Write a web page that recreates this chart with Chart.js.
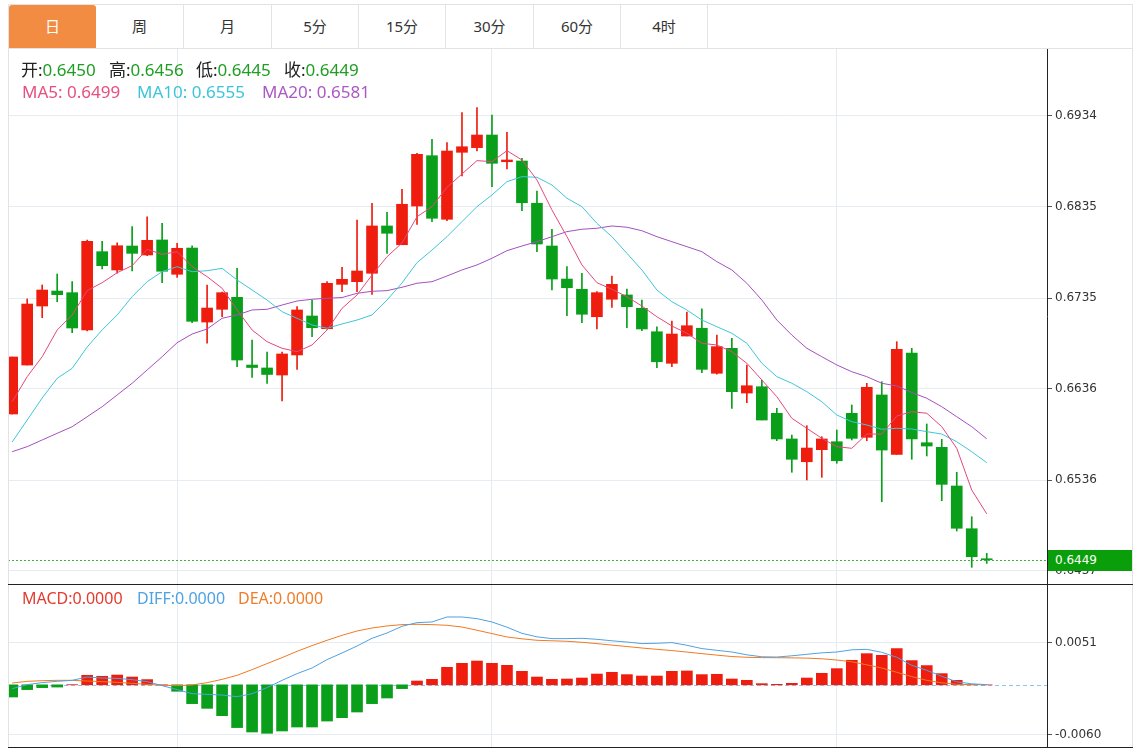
<!DOCTYPE html>
<html lang="zh-CN">
<head>
<meta charset="utf-8">
<title>K线图</title>
<script src="https://cdn.jsdelivr.net/npm/chart.js@4.4.1/dist/chart.umd.min.js"></script>
<style>
html,body{margin:0;padding:0;background:#fff;}
body{width:1145px;height:750px;position:relative;overflow:hidden;font-family:"Noto Sans","Noto Sans CJK SC",sans-serif;}
.abs{position:absolute;}
.hl{position:absolute;height:1px;}
.vl{position:absolute;width:1px;}
.tab{position:absolute;top:5px;height:43px;line-height:43px;text-align:center;font-size:15px;color:#333;border-right:1px solid #e3e3e3;box-sizing:border-box;font-family:"Noto Sans","Noto Sans CJK SC",sans-serif;}
.tab.on{background:#f28c42;color:#fff;border-radius:3px 3px 0 0;border-right:none;}
.leg{position:absolute;font-size:17px;white-space:nowrap;line-height:20px;}
.k{color:#222}.gv{color:#1f9e23}
#pricebox{position:absolute;left:1048px;width:84px;height:21px;background:#0a9f0a;color:#fff;font:12px "DejaVu Sans",Verdana,sans-serif;line-height:21px;padding-left:7px;box-sizing:border-box;}
</style>
</head>
<body>
<div class="abs" style="left:8px;top:48px;width:1124px;height:536px"><canvas id="main" width="1124" height="536"></canvas></div>
<div class="abs" style="left:8px;top:584px;width:1124px;height:163px"><canvas id="macd" width="1124" height="163"></canvas></div>

<div class="tab on" style="left:9px;width:87px">日</div>
<div class="tab" style="left:96px;width:88px">周</div>
<div class="tab" style="left:184px;width:88px">月</div>
<div class="tab" style="left:272px;width:87px">5分</div>
<div class="tab" style="left:359px;width:87px">15分</div>
<div class="tab" style="left:446px;width:88px">30分</div>
<div class="tab" style="left:534px;width:87px">60分</div>
<div class="tab" style="left:621px;width:87px">4时</div>

<div class="hl" style="left:8px;top:4px;width:1125px;background:#e3e3e3"></div>
<div class="hl" style="left:8px;top:48px;width:1125px;background:#e3e3e3"></div>
<div class="vl" style="left:8px;top:4px;height:744px;background:#e3e3e3"></div>
<div class="vl" style="left:1132px;top:4px;height:744px;background:#e3e3e3"></div>
<div class="hl" style="left:8px;top:584px;width:1125px;background:#222"></div>
<div class="hl" style="left:8px;top:747px;width:1125px;background:#222"></div>

<span class="leg" style="left:21px;top:60px"><span class="k">开:</span><span class="gv" id="vO"></span></span>
<span class="leg" style="left:109px;top:60px"><span class="k">高:</span><span class="gv" id="vH"></span></span>
<span class="leg" style="left:196px;top:60px"><span class="k">低:</span><span class="gv" id="vL"></span></span>
<span class="leg" style="left:284px;top:60px"><span class="k">收:</span><span class="gv" id="vC"></span></span>
<span class="leg" style="left:22px;top:82px;color:#e6507f" id="vMA5"></span>
<span class="leg" style="left:137px;top:82px;color:#3ec4da" id="vMA10"></span>
<span class="leg" style="left:262px;top:82px;color:#ab58c4" id="vMA20"></span>

<span class="leg" style="left:22px;top:588px;font-size:16px;color:#e33b2e" id="vMACD"></span>
<span class="leg" style="left:137px;top:588px;font-size:16px;color:#4fa3e3" id="vDIFF"></span>
<span class="leg" style="left:238px;top:588px;font-size:16px;color:#ef7d2b" id="vDEA"></span>

<div id="pricebox"></div>

<script>
// ---- data ----
const open  = [0.66083,0.66618,0.67263,0.67427,0.67409,0.67001,0.67857,0.67657,0.67919,0.67821,
               0.67985,0.67610,0.67897,0.67088,0.67227,0.67358,0.66618,0.66586,0.66509,0.66728,
               0.67154,0.67015,0.67500,0.67529,0.67621,0.68138,0.67933,0.68356,0.68906,0.68211,
               0.68943,0.68994,0.69132,0.68840,0.68848,0.68386,0.67919,0.67558,0.67446,0.67146,
               0.67337,0.67384,0.67238,0.66982,0.66637,0.66935,0.67020,0.66528,0.66801,0.66312,
               0.66381,0.66090,0.65810,0.65561,0.65693,0.65780,0.66090,0.65828,0.66291,0.65642,
               0.66750,0.65769,0.65719,0.65296,0.64829,0.64500];
const high  = [0.66706,0.67340,0.67493,0.67613,0.67529,0.67985,0.67970,0.67955,0.68130,0.68239,
               0.68167,0.67949,0.67922,0.67493,0.67416,0.67675,0.66892,0.66760,0.66760,0.67256,
               0.67329,0.67529,0.67686,0.68203,0.68386,0.68287,0.68539,0.68932,0.69085,0.69048,
               0.69376,0.69431,0.69351,0.69162,0.68878,0.68520,0.68102,0.67693,0.67621,0.67420,
               0.67591,0.67449,0.67329,0.67037,0.67099,0.67198,0.67231,0.66946,0.66910,0.66618,
               0.66454,0.66145,0.65853,0.65955,0.65835,0.65908,0.66181,0.66418,0.66436,0.66873,
               0.66801,0.65974,0.65806,0.65446,0.64960,0.64560];
const low   = [0.66083,0.66618,0.67135,0.67310,0.66971,0.66990,0.67668,0.67621,0.67646,0.67813,
               0.67518,0.67577,0.67081,0.66856,0.67146,0.66600,0.66482,0.66416,0.66225,0.66571,
               0.66928,0.67009,0.67420,0.67420,0.67391,0.67839,0.67933,0.68156,0.68185,0.68196,
               0.68684,0.68957,0.68567,0.68761,0.68305,0.67857,0.67438,0.67157,0.67081,0.67012,
               0.67249,0.67026,0.66993,0.66589,0.66600,0.66935,0.66534,0.66517,0.66145,0.66206,
               0.66017,0.65791,0.65446,0.65362,0.65391,0.65544,0.65799,0.65791,0.65124,0.65642,
               0.65588,0.65624,0.65135,0.64804,0.64407,0.64450];
const close = [0.66706,0.67285,0.67438,0.67387,0.67023,0.67970,0.67704,0.67922,0.67839,0.67981,
               0.67643,0.67894,0.67096,0.67241,0.67409,0.66673,0.66591,0.66515,0.66739,0.67220,
               0.67026,0.67511,0.67555,0.67646,0.68138,0.68058,0.68375,0.68921,0.68222,0.68957,
               0.69004,0.69132,0.68823,0.68859,0.68392,0.67941,0.67558,0.67463,0.67173,0.67409,
               0.67500,0.67256,0.67012,0.66654,0.66957,0.67048,0.66571,0.66819,0.66327,0.66392,
               0.66017,0.65810,0.65588,0.65711,0.65810,0.65572,0.65817,0.66375,0.65689,0.66790,
               0.65810,0.65733,0.65314,0.64834,0.64523,0.64490];
const ma5   = [0.66217,0.66491,0.66709,0.67001,0.67165,0.67431,0.67518,0.67627,0.67704,0.67883,
               0.67828,0.67857,0.67693,0.67584,0.67457,0.67220,0.67001,0.66873,0.66801,0.66764,
               0.66837,0.67001,0.67238,0.67384,0.67602,0.67802,0.67952,0.68239,0.68349,0.68561,
               0.68706,0.68852,0.68841,0.68961,0.68859,0.68641,0.68313,0.68021,0.67712,0.67518,
               0.67446,0.67365,0.67263,0.67146,0.67045,0.66965,0.66856,0.66837,0.66764,0.66637,
               0.66455,0.66272,0.66036,0.65927,0.65817,0.65726,0.65708,0.65864,0.65864,0.66061,
               0.66108,0.66091,0.65944,0.65708,0.65252,0.64992];
const ma10  = [0.65777,0.66017,0.66258,0.66473,0.66582,0.66815,0.67001,0.67165,0.67365,0.67529,
               0.67638,0.67693,0.67638,0.67649,0.67675,0.67548,0.67438,0.67329,0.67201,0.67129,
               0.67056,0.67020,0.67067,0.67110,0.67165,0.67329,0.67515,0.67737,0.67875,0.68021,
               0.68185,0.68349,0.68477,0.68622,0.68677,0.68670,0.68586,0.68441,0.68349,0.68167,
               0.68021,0.67839,0.67657,0.67438,0.67310,0.67220,0.67110,0.67037,0.66965,0.66856,
               0.66637,0.66491,0.66419,0.66327,0.66217,0.66072,0.65999,0.65963,0.65916,0.65927,
               0.65919,0.65890,0.65864,0.65780,0.65671,0.65551];
const ma20  = [0.65671,0.65726,0.65799,0.65872,0.65944,0.66053,0.66163,0.66291,0.66419,0.66564,
               0.66709,0.66862,0.66957,0.67012,0.67129,0.67165,0.67220,0.67227,0.67274,0.67318,
               0.67337,0.67348,0.67356,0.67402,0.67424,0.67431,0.67468,0.67512,0.67529,0.67591,
               0.67657,0.67712,0.67785,0.67868,0.67919,0.67966,0.68021,0.68076,0.68102,0.68113,
               0.68138,0.68124,0.68086,0.68021,0.67966,0.67912,0.67857,0.67748,0.67657,0.67512,
               0.67329,0.67110,0.66946,0.66801,0.66709,0.66619,0.66545,0.66491,0.66419,0.66389,
               0.66318,0.66255,0.66163,0.66053,0.65944,0.65812];
const macd  = [-0.00147,-0.00058,-0.00034,-0.00027,0.00002,0.00115,0.00103,0.00118,0.00094,0.00063,
               0.00000,-0.00078,-0.00227,-0.00284,-0.00372,-0.00516,-0.00569,-0.00585,-0.00557,-0.00509,
               -0.00509,-0.00437,-0.00396,-0.00328,-0.00227,-0.00159,-0.00046,0.00046,0.00066,0.00211,
               0.00259,0.00287,0.00259,0.00235,0.00163,0.00094,0.00066,0.00070,0.00082,0.00130,
               0.00151,0.00123,0.00106,0.00106,0.00163,0.00167,0.00123,0.00127,0.00070,0.00054,
               0.00014,0.00006,0.00018,0.00082,0.00139,0.00195,0.00296,0.00376,0.00356,0.00437,
               0.00292,0.00232,0.00135,0.00054,0.00002,0.00000];
const diff  = [-0.00046,0.00002,0.00027,0.00042,0.00054,0.00094,0.00082,0.00078,0.00062,0.00038,
               -0.00010,-0.00058,-0.00107,-0.00115,-0.00123,-0.00143,-0.00107,-0.00034,0.00054,0.00135,
               0.00203,0.00304,0.00384,0.00468,0.00561,0.00625,0.00706,0.00750,0.00758,0.00818,
               0.00818,0.00798,0.00758,0.00695,0.00621,0.00579,0.00557,0.00557,0.00561,0.00549,
               0.00531,0.00516,0.00497,0.00501,0.00509,0.00477,0.00437,0.00416,0.00396,0.00362,
               0.00338,0.00335,0.00350,0.00368,0.00386,0.00396,0.00422,0.00428,0.00392,0.00332,
               0.00235,0.00175,0.00103,0.00036,0.00012,0.00002];
const dea   = [0.00022,0.00042,0.00050,0.00054,0.00054,0.00046,0.00038,0.00030,0.00018,0.00006,
               -0.00006,-0.00010,-0.00002,0.00026,0.00066,0.00115,0.00183,0.00256,0.00328,0.00404,
               0.00473,0.00537,0.00597,0.00649,0.00685,0.00710,0.00726,0.00730,0.00726,0.00718,
               0.00697,0.00658,0.00618,0.00577,0.00555,0.00537,0.00531,0.00525,0.00513,0.00497,
               0.00479,0.00462,0.00444,0.00428,0.00413,0.00395,0.00376,0.00358,0.00341,0.00332,
               0.00328,0.00327,0.00325,0.00322,0.00314,0.00299,0.00278,0.00241,0.00203,0.00151,
               0.00099,0.00054,0.00024,0.00006,0.00002,0.00001];
const priceTicks = [0.6437, 0.6536, 0.6636, 0.6735, 0.6835, 0.6934];
const macdTicks  = [-0.0060, 0.0051];
const monthTicks = [11, 32, 55];

// ---- view ranges ----
const X_MIN = -0.28, X_MAX = 69.02;
const P_MIN = 0.64225, P_MAX = 0.70083;
const M_MIN = -0.00750, M_MAX = 0.01216;

const UP = '#ee1d0e', DN = '#0a9f1a', GRID = '#e6ecf1';
const idx = open.map((_, i) => i);
const kColors = idx.map(i => close[i] >= open[i] ? UP : DN);
const mColors = idx.map(i => macd[i] >= 0 ? UP : DN);
const last = idx.length - 1;

// ---- legends ----
const f4 = v => v.toFixed(4);
document.getElementById('vO').textContent = f4(open[last]);
document.getElementById('vH').textContent = f4(high[last]);
document.getElementById('vL').textContent = f4(low[last]);
document.getElementById('vC').textContent = f4(close[last]);
document.getElementById('vMA5').textContent = 'MA5: ' + f4(ma5[last]);
document.getElementById('vMA10').textContent = 'MA10: ' + f4(ma10[last]);
document.getElementById('vMA20').textContent = 'MA20: ' + f4(ma20[last]);
document.getElementById('vMACD').textContent = 'MACD:' + f4(Math.abs(macd[last]));
document.getElementById('vDIFF').textContent = 'DIFF:' + f4(Math.abs(diff[last]));
document.getElementById('vDEA').textContent = 'DEA:' + f4(Math.abs(dea[last]));

function xScale() {
  return {
    type: 'linear', min: X_MIN, max: X_MAX, offset: false,
    grid: { color: GRID, offset: false, drawTicks: false },
    border: { display: false },
    ticks: { display: false },
    afterBuildTicks: s => { s.ticks = monthTicks.map(v => ({ value: v })); },
    afterFit: s => { s.height = 0; s.paddingLeft = 0; s.paddingRight = 0; }
  };
}
function yScale(min, max, ticks) {
  return {
    type: 'linear', position: 'right', min, max,
    grid: { color: GRID, tickColor: '#555', tickLength: 5 },
    border: { display: true, color: '#222', width: 1 },
    ticks: { color: '#333', font: { family: 'DejaVu Sans', size: 12 }, padding: 3, callback: v => Number(v).toFixed(4) },
    afterBuildTicks: s => { s.ticks = ticks.map(v => ({ value: v })); },
    afterFit: s => { s.width = 85; s.paddingTop = 0; s.paddingBottom = 0; }
  };
}
const baseOpts = {
  responsive: false, animation: false, devicePixelRatio: 1, events: [],
  layout: { padding: 0 },
  plugins: { legend: { display: false }, tooltip: { enabled: false } }
};

const priceLine = {
  id: 'priceLine',
  afterDatasetsDraw(c) {
    const y = Math.round(c.scales.y.getPixelForValue(close[last])) + 0.5;
    const ctx = c.ctx;
    ctx.save();
    ctx.strokeStyle = '#45ad45'; ctx.lineWidth = 1; ctx.setLineDash([2, 2]);
    ctx.beginPath(); ctx.moveTo(c.chartArea.left, y); ctx.lineTo(c.chartArea.right, y); ctx.stroke();
    ctx.restore();
  }
};
const zeroLine = {
  id: 'zeroLine',
  beforeDatasetsDraw(c) {
    const y = Math.round(c.scales.y.getPixelForValue(0)) + 0.5;
    const ctx = c.ctx;
    ctx.save();
    ctx.strokeStyle = '#8cc6ee'; ctx.lineWidth = 1; ctx.setLineDash([4, 3]);
    ctx.beginPath(); ctx.moveTo(c.chartArea.left, y); ctx.lineTo(c.chartArea.right, y); ctx.stroke();
    ctx.restore();
  }
};

const lineDs = (arr, color) => ({
  type: 'line', data: idx.map(i => ({ x: i, y: arr[i] })), borderColor: color,
  borderWidth: 1, pointRadius: 0, fill: false, tension: 0, order: 1
});

const mainChart = new Chart(document.getElementById('main'), {
  type: 'bar',
  data: {
    datasets: [
      { type: 'bar', data: idx.map(i => ({ x: i, y: [low[i], high[i]] })), backgroundColor: kColors, barThickness: 1, grouped: false, order: 3 },
      { type: 'bar', data: idx.map(i => ({ x: i, y: [open[i], close[i]] })), backgroundColor: kColors, barThickness: 11, minBarLength: 1, grouped: false, order: 2 },
      lineDs(ma5, '#e4477d'),
      lineDs(ma10, '#3ec6d8'),
      lineDs(ma20, '#a550bd')
    ]
  },
  options: Object.assign({}, baseOpts, {
    scales: { x: xScale(), y: yScale(P_MIN, P_MAX, priceTicks) }
  }),
  plugins: [priceLine]
});

const macdChart = new Chart(document.getElementById('macd'), {
  type: 'bar',
  data: {
    datasets: [
      { type: 'bar', data: idx.map(i => ({ x: i, y: macd[i] })), backgroundColor: mColors, barThickness: 11, grouped: false, order: 2 },
      lineDs(diff, '#4ea2e2'),
      lineDs(dea, '#f07a22')
    ]
  },
  options: Object.assign({}, baseOpts, {
    scales: { x: xScale(), y: yScale(M_MIN, M_MAX, macdTicks) }
  }),
  plugins: [zeroLine]
});

// price tag on the right axis
const py = mainChart.scales.y.getPixelForValue(close[last]);
const box = document.getElementById('pricebox');
box.style.top = (48 + Math.round(py) - 10) + 'px';
box.textContent = f4(close[last]);
</script>
</body>
</html>
